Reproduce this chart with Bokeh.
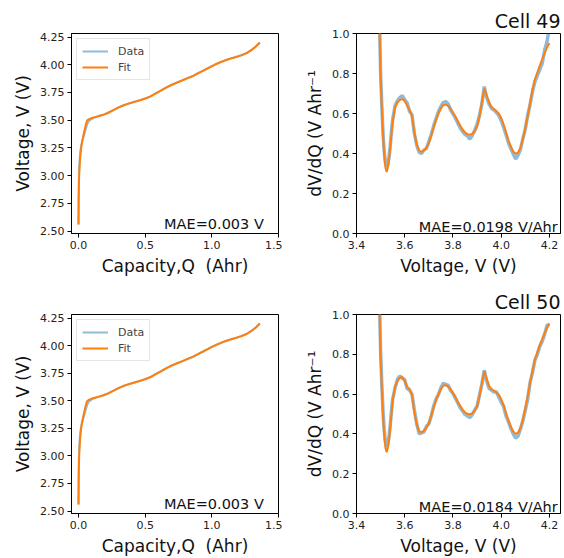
from bokeh.plotting import figure
from bokeh.layouts import gridplot
from bokeh.models import Range1d, FixedTicker, NumeralTickFormatter, Label, Legend, LegendItem
from bokeh.embed import file_html
from bokeh.resources import INLINE

# ---------------- data ----------------
cells = ["Cell 49", "Cell 50"]
mae_v = ["MAE=0.003 V", "MAE=0.003 V"]
mae_dvdq = ["MAE=0.0198 V/Ahr", "MAE=0.0184 V/Ahr"]

# Voltage vs capacity (fit)
q_fit = [0.0, 0.001, 0.003, 0.006, 0.010, 0.015, 0.020, 0.028, 0.036, 0.045, 0.055, 0.062,
         0.068, 0.080, 0.10, 0.13, 0.16, 0.19, 0.22, 0.26, 0.30, 0.34, 0.38, 0.42, 0.46, 0.50,
         0.54, 0.58, 0.62, 0.66, 0.70, 0.74, 0.78, 0.82, 0.86, 0.90, 0.94, 0.98, 1.02, 1.06,
         1.10, 1.14, 1.18, 1.22, 1.26, 1.30, 1.33, 1.36]
v_fit = [2.56, 2.75, 2.92, 3.03, 3.12, 3.19, 3.25, 3.31, 3.36, 3.41, 3.46, 3.49,
         3.50, 3.51, 3.52, 3.53, 3.54, 3.55, 3.565, 3.59, 3.615, 3.635, 3.652, 3.665, 3.68, 3.695,
         3.715, 3.742, 3.768, 3.795, 3.82, 3.84, 3.86, 3.88, 3.90, 3.925, 3.95, 3.975, 4.00, 4.02,
         4.04, 4.055, 4.07, 4.085, 4.105, 4.135, 4.165, 4.20]
# Voltage vs capacity (data)
q_data = q_fit
v_data = [2.56, 2.80, 2.98, 3.08, 3.17, 3.23, 3.27, 3.31, 3.34, 3.38, 3.42, 3.45,
          3.47, 3.495, 3.512, 3.528, 3.54, 3.552, 3.566, 3.589, 3.614, 3.636, 3.651, 3.666, 3.679, 3.696,
          3.714, 3.743, 3.767, 3.796, 3.819, 3.841, 3.859, 3.881, 3.899, 3.926, 3.949, 3.976, 3.999, 4.021,
          4.039, 4.056, 4.069, 4.086, 4.104, 4.136, 4.164, 4.20]

# dV/dQ vs voltage
v_grid = [3.490, 3.495, 3.500, 3.505, 3.510, 3.515, 3.520, 3.525, 3.530, 3.535, 3.540, 3.545, 3.550,
          3.56, 3.57, 3.58, 3.59, 3.60, 3.61, 3.62, 3.63, 3.64, 3.65, 3.66, 3.67, 3.68, 3.69,
          3.70, 3.71, 3.72, 3.73, 3.74, 3.75, 3.76, 3.77, 3.78, 3.79, 3.80, 3.81, 3.82, 3.83,
          3.84, 3.85, 3.86, 3.87, 3.88, 3.89, 3.90, 3.91, 3.92, 3.93, 3.94, 3.95, 3.96, 3.97,
          3.98, 3.99, 4.00, 4.01, 4.02, 4.03, 4.04, 4.05, 4.06, 4.07, 4.08, 4.09, 4.10, 4.11,
          4.12, 4.13, 4.14, 4.15, 4.16, 4.17, 4.18, 4.19, 4.20]

dvdq_fit_49 = [1.60, 1.05, 0.78, 0.63, 0.49, 0.39, 0.33, 0.308, 0.33, 0.37, 0.43, 0.50, 0.56,
               0.63, 0.655, 0.668, 0.672, 0.662, 0.640, 0.618, 0.585, 0.505, 0.445, 0.415, 0.408, 0.415, 0.428,
               0.452, 0.49, 0.53, 0.568, 0.60, 0.625, 0.642, 0.645, 0.638, 0.625, 0.605, 0.585, 0.562, 0.54,
               0.52, 0.505, 0.497, 0.494, 0.498, 0.510, 0.535, 0.585, 0.655, 0.725, 0.69, 0.655, 0.632, 0.622,
               0.612, 0.60, 0.578, 0.545, 0.505, 0.465, 0.435, 0.41, 0.398, 0.405, 0.428, 0.47, 0.53, 0.585,
               0.65, 0.72, 0.77, 0.805, 0.84, 0.87, 0.90, 0.93, 0.952]
dvdq_data_49 = [1.65, 1.10, 0.80, 0.64, 0.50, 0.41, 0.355, 0.333, 0.345, 0.385, 0.44, 0.51, 0.57,
                0.64, 0.665, 0.68, 0.69, 0.668, 0.652, 0.61, 0.595, 0.50, 0.44, 0.405, 0.40, 0.418, 0.425,
                0.46, 0.495, 0.538, 0.575, 0.61, 0.635, 0.655, 0.66, 0.648, 0.618, 0.598, 0.578, 0.552, 0.528,
                0.51, 0.495, 0.488, 0.472, 0.49, 0.515, 0.545, 0.59, 0.648, 0.735, 0.68, 0.648, 0.625, 0.618,
                0.605, 0.59, 0.565, 0.532, 0.495, 0.455, 0.425, 0.398, 0.372, 0.392, 0.42, 0.475, 0.52, 0.592,
                0.645, 0.71, 0.76, 0.79, 0.82, 0.85, 0.915, 0.96, 1.03]

dvdq_fit_50 = [1.60, 1.05, 0.78, 0.63, 0.49, 0.39, 0.33, 0.308, 0.33, 0.37, 0.43, 0.50, 0.57,
               0.64, 0.665, 0.682, 0.686, 0.665, 0.635, 0.626, 0.595, 0.51, 0.445, 0.412, 0.408, 0.417, 0.43,
               0.455, 0.492, 0.532, 0.57, 0.602, 0.626, 0.642, 0.645, 0.638, 0.625, 0.606, 0.585, 0.562, 0.54,
               0.522, 0.508, 0.501, 0.499, 0.503, 0.515, 0.54, 0.59, 0.655, 0.715, 0.675, 0.64, 0.625, 0.617,
               0.608, 0.597, 0.575, 0.545, 0.505, 0.467, 0.436, 0.412, 0.40, 0.406, 0.43, 0.472, 0.53, 0.59,
               0.655, 0.72, 0.775, 0.81, 0.845, 0.875, 0.905, 0.932, 0.955]
dvdq_data_50 = [1.65, 1.10, 0.81, 0.65, 0.51, 0.42, 0.36, 0.335, 0.35, 0.39, 0.445, 0.515, 0.575,
                0.63, 0.675, 0.69, 0.68, 0.672, 0.628, 0.62, 0.60, 0.52, 0.45, 0.40, 0.405, 0.41, 0.438,
                0.45, 0.49, 0.54, 0.575, 0.598, 0.632, 0.655, 0.648, 0.645, 0.618, 0.603, 0.58, 0.555, 0.532,
                0.515, 0.498, 0.49, 0.482, 0.497, 0.52, 0.538, 0.595, 0.65, 0.72, 0.665, 0.628, 0.62, 0.61,
                0.612, 0.585, 0.56, 0.538, 0.49, 0.462, 0.428, 0.40, 0.378, 0.39, 0.425, 0.465, 0.518, 0.575,
                0.66, 0.708, 0.77, 0.80, 0.84, 0.865, 0.90, 0.945, 0.95]

dvdq_fit = [dvdq_fit_49, dvdq_fit_50]
dvdq_data = [dvdq_data_49, dvdq_data_50]

q_ticks = [0.0, 0.5, 1.0, 1.5]
v_ticks = [2.50, 2.75, 3.00, 3.25, 3.50, 3.75, 4.00, 4.25]
vx_ticks = [3.4, 3.6, 3.8, 4.0, 4.2]
d_ticks = [0.0, 0.2, 0.4, 0.6, 0.8, 1.0]

BLUE = "#1f77b4"
ORANGE = "#ff7f0e"
FONT = "DejaVu Sans"


def style(p, xlabel, ylabel, xticks, yticks, xfmt, yfmt):
    p.grid.visible = False
    p.outline_line_color = "black"
    p.outline_line_width = 1
    p.background_fill_color = "white"
    p.border_fill_color = "white"
    for ax in (p.xaxis[0], p.yaxis[0]):
        ax.axis_line_color = "black"
        ax.major_tick_line_color = "black"
        ax.major_tick_out = 4
        ax.major_tick_in = 0
        ax.minor_tick_out = 0
        ax.minor_tick_in = 0
        ax.major_label_text_font = FONT
        ax.major_label_text_font_size = "11px"
        ax.major_label_text_color = "#222222"
        ax.axis_label_text_font = FONT
        ax.axis_label_text_font_size = "17px"
        ax.axis_label_text_font_style = "normal"
        ax.axis_label_text_color = "#111111"
        ax.major_label_standoff = 3
        ax.axis_label_standoff = 4
    p.xaxis.axis_label = xlabel
    p.yaxis.axis_label = ylabel
    p.xaxis.ticker = FixedTicker(ticks=xticks)
    p.yaxis.ticker = FixedTicker(ticks=yticks)
    p.xaxis.formatter = NumeralTickFormatter(format=xfmt)
    p.yaxis.formatter = NumeralTickFormatter(format=yfmt)


figs = []
for i in range(2):
    bottom = 48 if i == 0 else 43
    h = 281 if i == 0 else 277
    # left panel: voltage vs capacity
    p1 = figure(width=282, height=h, output_backend="svg", toolbar_location=None,
                x_range=Range1d(-0.0525, 1.5), y_range=Range1d(2.478, 4.282))
    p1.min_border_left = 71
    p1.min_border_right = 4
    p1.min_border_top = 33
    p1.min_border_bottom = bottom
    style(p1, "Capacity,Q\u00a0 (Ahr)", "Voltage, V (V)", q_ticks, v_ticks, "0.0", "0.00")
    r_data = p1.line(q_data, v_data, line_color=BLUE, line_alpha=0.5, line_width=2)
    r_fit = p1.line(q_fit, v_fit, line_color=ORANGE, line_width=2)
    leg = Legend(items=[LegendItem(label="Data", renderers=[r_data]),
                        LegendItem(label="Fit", renderers=[r_fit])],
                 location="top_left")
    leg.label_text_font = FONT
    leg.label_text_font_size = "11px"
    leg.glyph_width = 26
    leg.glyph_height = 14
    leg.label_height = 14
    leg.label_standoff = 10
    leg.padding = 5
    leg.spacing = 2
    leg.margin = 5
    leg.border_line_color = "#cccccc"
    leg.border_line_width = 1
    leg.background_fill_alpha = 0.8
    p1.add_layout(leg)
    p1.add_layout(Label(x=1.39, y=2.533, y_offset=3, text=mae_v[i], text_align="right",
                        text_baseline="alphabetic", text_font=FONT,
                        text_font_size="14.5px", text_color="#111111"))

    # right panel: dV/dQ vs voltage
    p2 = figure(width=282, height=h, output_backend="svg", toolbar_location=None,
                x_range=Range1d(3.4, 4.246), y_range=Range1d(0.0, 1.0),
                title=cells[i])
    p2.title.align = "right"
    p2.title.text_font = FONT
    p2.title.text_font_size = "19px"
    p2.title.text_font_style = "normal"
    p2.title.text_color = "#111111"
    p2.title.standoff = 4
    p2.min_border_left = 74
    p2.min_border_right = 4
    p2.min_border_top = 33
    p2.min_border_bottom = bottom
    style(p2, "Voltage, V (V)", "dV/dQ (V Ahr\u207b\u00b9", vx_ticks, d_ticks, "0.0", "0.0")
    p2.line(v_grid, dvdq_data[i], line_color=BLUE, line_alpha=0.5, line_width=3.5)
    p2.line(v_grid, dvdq_fit[i], line_color=ORANGE, line_width=2)
    p2.add_layout(Label(x=4.2347, y=0.0165, y_offset=3, text=mae_dvdq[i], text_align="right",
                        text_baseline="alphabetic", text_font=FONT,
                        text_font_size="14.5px", text_color="#111111"))
    figs.append([p1, p2])

grid = gridplot(figs, toolbar_location=None)
open("out.html", "w").write(file_html(grid, INLINE))
